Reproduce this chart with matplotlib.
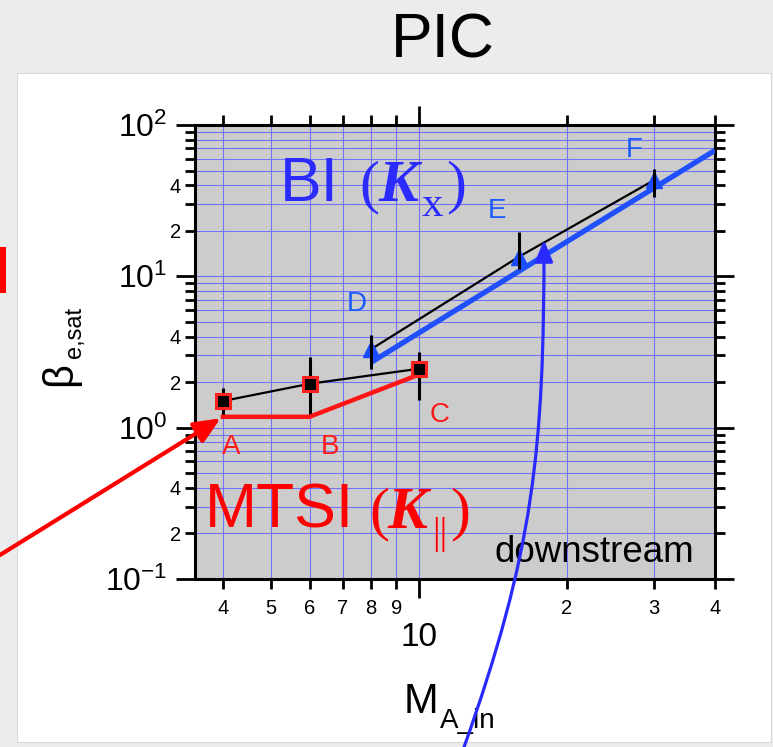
import numpy as np
import matplotlib
matplotlib.use("Agg")
import matplotlib.pyplot as plt
from matplotlib.ticker import LogLocator, FuncFormatter
from matplotlib.patches import Rectangle, FancyArrowPatch
from matplotlib.path import Path

plt.rcParams['font.family'] = ['Liberation Sans', 'DejaVu Sans']
plt.rcParams['mathtext.fontset'] = 'custom'
plt.rcParams['mathtext.rm'] = 'Liberation Sans'
plt.rcParams['mathtext.it'] = 'Liberation Sans:italic'
plt.rcParams['mathtext.bf'] = 'Liberation Sans:bold'

# ---------------- data ----------------
mtsi_M = [4, 6, 10]
mtsi_beta = [1.5, 1.95, 2.45]
mtsi_lo = [1.22, 1.22, 1.53]
mtsi_hi = [1.84, 2.95, 3.18]
mtsi_fit_M = [4, 6, 10]
mtsi_fit_beta = [1.18, 1.18, 2.24]
mtsi_names = ['A', 'B', 'C']

bi_M = [8, 16, 30]
bi_beta = [3.3, 13.5, 43]
bi_lo = [2.45, 11.1, 33.6]
bi_hi = [4.1, 19.7, 50.9]
bi_fit_M = [8, 40]
bi_fit_beta = [2.7, 68]
bi_names = ['D', 'E', 'F']

x_range = [3.51, 40]
y_range = [0.1, 100]

W, H = 773, 747
fig = plt.figure(figsize=(W / 100, H / 100), dpi=100, facecolor='#ececec')


def fx(x):
    return x / W


def fy(y):
    return 1 - y / H


def ftxt(x, y, s, **kw):
    return fig.text(fx(x), fy(y), s, **kw)


# white panel and red bar
fig.add_artist(Rectangle((fx(17), fy(742)), (771 - 17) / W, (742 - 73) / H,
                         transform=fig.transFigure, facecolor='white',
                         edgecolor='#d8d8d8', lw=0.8, zorder=-5))
fig.add_artist(Rectangle((0, fy(293)), 6 / W, 46 / H, transform=fig.transFigure,
                         facecolor='#ff0000', edgecolor='none', zorder=-4))

ax = fig.add_axes([fx(195), fy(579), (715 - 195) / W, (579 - 125) / H])
ax.set_facecolor('#cccccc')
ax.set_xscale('log')
ax.set_yscale('log')
ax.set_xlim(*x_range)
ax.set_ylim(*y_range)
ax.set_axisbelow(True)

ax.xaxis.set_major_locator(LogLocator(base=10, numticks=10))
ax.xaxis.set_minor_locator(LogLocator(base=10, subs=np.arange(2, 10), numticks=30))
ax.yaxis.set_major_locator(LogLocator(base=10, numticks=10))
ax.yaxis.set_minor_locator(LogLocator(base=10, subs=np.arange(2, 10), numticks=30))


def mant(v):
    e = np.floor(np.log10(v) + 1e-9)
    return int(round(v / 10 ** e))


ax.xaxis.set_major_formatter(FuncFormatter(lambda v, p: '%d' % round(v)))
ax.xaxis.set_minor_formatter(FuncFormatter(lambda v, p: '%d' % mant(v)))
ax.yaxis.set_major_formatter(FuncFormatter(
    lambda v, p: r'$10^{%d}$' % int(round(np.log10(v)))))
ax.yaxis.set_minor_formatter(FuncFormatter(
    lambda v, p: ('%d' % mant(v)) if mant(v) in (2, 4) else ''))

for s in ax.spines.values():
    s.set_linewidth(2.2)
ax.tick_params(which='both', direction='out', top=True, right=True,
               width=2.0, color='black')
ax.tick_params(which='major', length=14)
ax.tick_params(which='minor', length=7.5)
ax.tick_params(axis='x', which='major', labelsize=24, pad=17)
ax.tick_params(axis='x', which='minor', labelsize=14.5, pad=7)
ax.tick_params(axis='y', which='major', labelsize=23, pad=6)
ax.tick_params(axis='y', which='minor', labelsize=14.5, pad=2.5)

ax.grid(which='both', color='#7272ff', linewidth=0.8)

# MTSI points
ax.plot(mtsi_M, mtsi_beta, color='black', lw=1.6, zorder=3)
ax.vlines(mtsi_M, mtsi_lo, mtsi_hi, color='black', lw=2.2, zorder=4)
ax.plot(mtsi_fit_M, mtsi_fit_beta, color='#ff1414', lw=3.2, zorder=4,
        solid_joinstyle='miter')
ax.plot(mtsi_M, mtsi_beta, 's', ms=10, mfc='black', mec='#ff2020', mew=2.2,
        zorder=5, ls='none')

# BI points
ax.plot(bi_fit_M, bi_fit_beta, color='#1f4fff', lw=3.8, zorder=4,
        solid_capstyle='butt')
ax.plot(bi_M, bi_beta, color='black', lw=1.6, zorder=3)
ax.plot(bi_M, bi_beta, '^', ms=11, mfc='#1a4cff', mec='#1a4cff', zorder=5,
        ls='none')
ax.vlines(bi_M, bi_lo, bi_hi, color='black', lw=2.2, zorder=6)

# point letters
for (x, y), s in zip([(231, 447), (330, 447), (440, 415)], mtsi_names):
    ftxt(x, y, s, color='#ff1a1a', fontsize=20, ha='center', va='center')
for (x, y), s in zip([(357, 304), (497, 211), (634, 150)], bi_names):
    ftxt(x, y, s, color='#1a5cff', fontsize=20, ha='center', va='center')

# BI (K_x)
bic = '#2b2bff'
ftxt(280, 201, 'BI', color=bic, fontsize=45, ha='left', va='baseline')
ftxt(359, 201, '(', color=bic, fontsize=43, family='Liberation Serif',
     ha='left', va='baseline')
ftxt(378, 201, 'K', color=bic, fontsize=43, family='Liberation Serif',
     style='italic', weight='bold', ha='left', va='baseline')
ftxt(422, 216, 'x', color=bic, fontsize=31, family='Liberation Serif',
     ha='left', va='baseline')
ftxt(446, 201, ')', color=bic, fontsize=43, family='Liberation Serif',
     ha='left', va='baseline')

# MTSI (K_||)
mc = '#ff0000'
ftxt(205, 528, 'MTSI', color=mc, fontsize=45, ha='left', va='baseline')
ftxt(369, 528, '(', color=mc, fontsize=43, family='Liberation Serif',
     ha='left', va='baseline')
ftxt(387, 528, 'K', color=mc, fontsize=43, family='Liberation Serif',
     style='italic', weight='bold', ha='left', va='baseline')
ftxt(432, 544, '||', color=mc, fontsize=27, family='Liberation Serif',
     ha='left', va='baseline')
ftxt(450, 528, ')', color=mc, fontsize=43, family='Liberation Serif',
     ha='left', va='baseline')

ftxt(494, 562, 'downstream', color='black', fontsize=26.5, ha='left',
     va='baseline')

# title and axis labels
ftxt(443, 57, 'PIC', fontsize=45, ha='center', va='baseline')
ftxt(404, 713, 'M', fontsize=30, ha='left', va='baseline')
ftxt(440, 728, 'A_in', fontsize=20, ha='left', va='baseline')
ftxt(60, 374, 'β', fontsize=30, rotation=90, ha='center', va='center')
ftxt(75, 332, 'e,sat', fontsize=17, rotation=90, ha='center', va='center')

# red arrow to point A
ax.annotate('', xy=(mtsi_fit_M[0], mtsi_fit_beta[0]), xycoords='data',
            xytext=(0, fy(555)), textcoords='figure fraction',
            arrowprops=dict(arrowstyle='-|>,head_length=0.8,head_width=0.35',
                            mutation_scale=20, color='#ff0000', lw=3,
                            shrinkA=0, shrinkB=2),
            annotation_clip=False, zorder=7)

# blue curved arrow
verts = [(fx(463), fy(750)), (fx(534), fy(551)), (fx(544), fy(450)),
         (fx(544), fy(240))]
codes = [Path.MOVETO, Path.CURVE4, Path.CURVE4, Path.CURVE4]
arr = FancyArrowPatch(path=Path(verts, codes),
                      arrowstyle='-|>,head_length=0.65,head_width=0.27',
                      mutation_scale=20, color='#2a2aff', lw=2.3,
                      transform=fig.transFigure, zorder=8)
fig.add_artist(arr)

fig.savefig('out.png', dpi=100, facecolor=fig.get_facecolor())
